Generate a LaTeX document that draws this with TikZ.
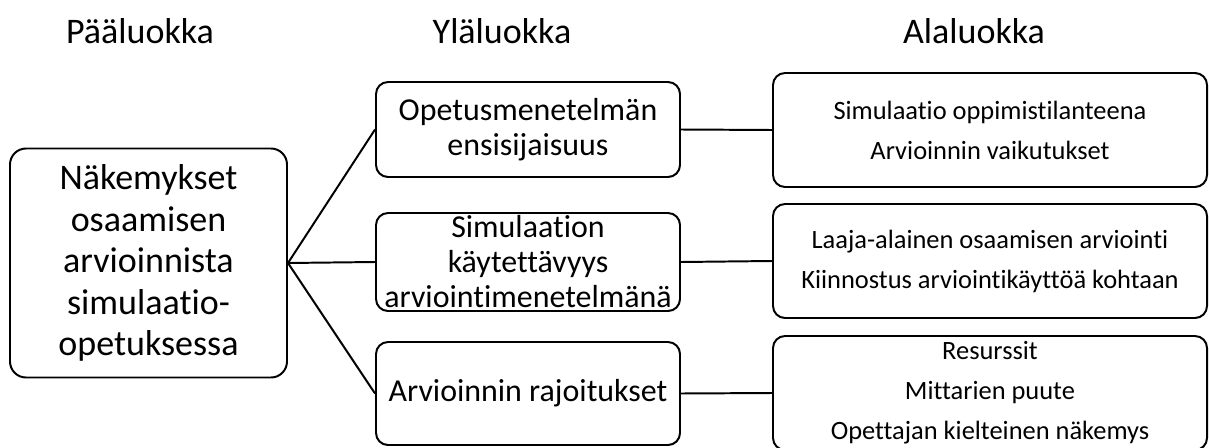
\documentclass[tikz,border=0pt]{standalone}
\usepackage{fontspec}
\setmainfont[Ligatures=NoCommon]{Carlito}
\usepackage{tikz}
\tikzset{>=latex}
\def\px{0.025cm}
\tikzstyle{box}=[draw,line width=1.4pt,rounded corners=0.3cm,align=center,inner sep=0pt]
\tikzstyle{headtxt}=[anchor=base,font=\fontsize{25.6}{30}\selectfont]
\tikzstyle{rootbox}=[box,rounded corners=0.4cm,minimum width=277*\px,minimum height=229*\px,font=\fontsize{25.6}{29.5}\selectfont]
\tikzstyle{midbox}=[box,minimum width=304*\px,font=\fontsize{22.7}{24.9}\selectfont]
\tikzstyle{subbox}=[box,minimum width=434*\px,minimum height=114*\px,font=\fontsize{18.8}{28.4}\selectfont]
\tikzstyle{link}=[line width=1.4pt]

\begin{document}
\begin{tikzpicture}[x=\px,y=-\px]
  \clip (0,0) rectangle (1209,447);

  % headers
  \node[headtxt] (hpaa) at (140,43) {Pääluokka};
  \node[headtxt] (hyla) at (502,43) {Yläluokka};
  \node[headtxt] (hala) at (974,43) {Alaluokka};

  % main category
  \node[rootbox] (root) at (148.5,263)
    {Näkemykset\\osaamisen\\arvioinnista\\simulaatio-\\opetuksessa};

  % upper categories
  \node[midbox,minimum height=95*\px] (opetus) at (528,129.5)
    {Opetusmenetelmän\\ensisijaisuus};
  \node[midbox,minimum height=98*\px] (kaytto) at (528,262)
    {Simulaation\\käytettävyys\\arviointimenetelmänä};
  \node[midbox,minimum height=103*\px] (rajoit) at (528,393.5)
    {Arvioinnin rajoitukset};

  % sub categories
  \node[subbox] (ala1) at (990,130)
    {Simulaatio oppimistilanteena\\Arvioinnin vaikutukset};
  \node[subbox] (ala2) at (990,261)
    {Laaja-alainen osaamisen arviointi\\Kiinnostus arviointikäyttöä kohtaan};
  \node[subbox] (ala3) at (990,393)
    {Resurssit\\Mittarien puute\\Opettajan kielteinen näkemys};

  % links
  \draw[link] (root.east) -- (opetus.west);
  \draw[link] (root.east) -- (kaytto.west);
  \draw[link] (root.east) -- (rajoit.west);
  \draw[link] (opetus.east) -- (ala1.west);
  \draw[link] (kaytto.east) -- (ala2.west);
  \draw[link] (rajoit.east) -- (ala3.west);
\end{tikzpicture}
\end{document}
